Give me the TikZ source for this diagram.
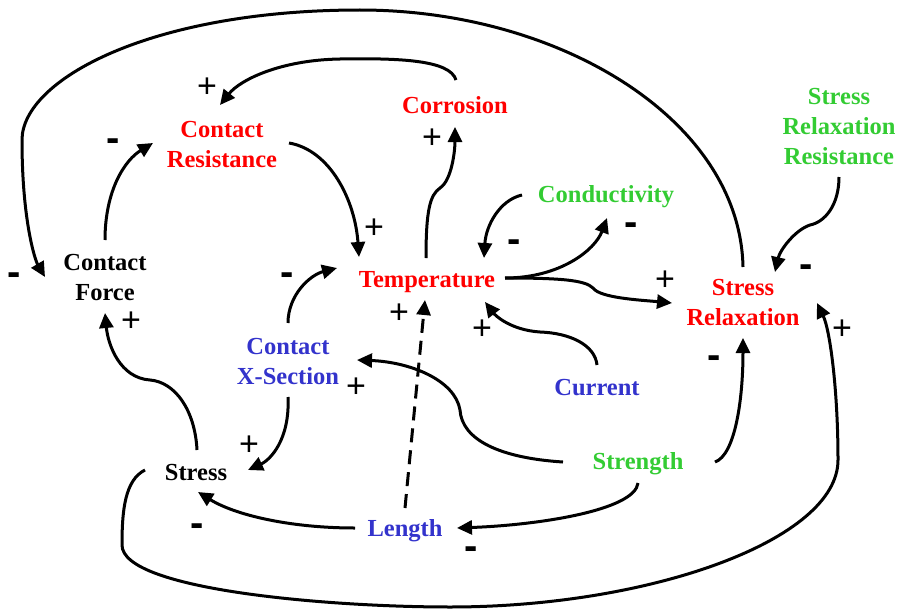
\documentclass[tikz,border=0pt]{standalone}
\usepackage{fontspec}
\setmainfont{Liberation Serif}
\newfontfamily\signfont{Liberation Sans}
\usetikzlibrary{arrows.meta,calc}
\definecolor{cred}{RGB}{255,0,0}
\definecolor{cgreen}{RGB}{51,204,51}
\definecolor{cblue}{RGB}{51,51,204}
\tikzset{
  var/.style={font=\fontsize{24.5}{30}\selectfont\bfseries, align=center, inner sep=0pt},
  redvar/.style={var, text=cred},
  greenvar/.style={var, text=cgreen},
  bluevar/.style={var, text=cblue},
  blackvar/.style={var, text=black},
  link/.style={line width=3pt, -{Triangle[length=15pt,width=14pt]}},
  plus/.style={font=\signfont\fontsize{34}{34}\selectfont, inner sep=0pt, text height=20pt, text depth=-4pt},
  minus/.style={font=\signfont\bfseries\fontsize{40}{40}\selectfont, inner sep=0pt, text height=13pt, text depth=-7pt}
}
\begin{document}
\begin{tikzpicture}[x=1pt,y=-1pt]
\useasboundingbox (0,0) rectangle (897,610);
% nodes
\node[redvar] (cor) at (455,105) {Corrosion};
\node[redvar] (cr) at (222,145) {Contact\\Resistance};
\node[greenvar] (srr) at (839,127) {Stress\\Relaxation\\Resistance};
\node[greenvar] (cond) at (606,197) {Conductivity};
\node[blackvar] (cf) at (105,278) {Contact\\Force};
\node[redvar] (temp) at (427,282) {Temperature};
\node[redvar] (sr) at (743,303) {Stress\\Relaxation};
\node[bluevar] (cxs) at (288,362) {Contact\\X-Section};
\node[bluevar] (cur) at (597,388) {Current};
\node[greenvar] (str) at (638,464) {Strength};
\node[blackvar] (stressnode) at (196,473) {Stress};
\node[bluevar] (len) at (405,531) {Length};
% connectors
\draw[link] ($(sr)+(0,-36)$) .. controls (740,120) and (560,10) .. (360,10) .. controls (150,10) and (22,80) .. (22,140) .. controls (22,220) and (35,260) .. ($(cf)+(-60,-1)$);
\draw[link] ($(cor)+(1,-25)$) .. controls (450,60) and (400,58) .. (340,59) .. controls (280,60) and (240,80) .. ($(cr)+(-2,-40)$);
\draw[link] ($(cf)+(0,-38)$) .. controls (105,190) and (125,160) .. ($(cr)+(-69,-2)$);
\draw[link] ($(cr)+(67,-2)$) .. controls (330,150) and (355,200) .. ($(temp)+(-68,-25)$);
\draw[link] ($(temp)+(-1,-24)$) .. controls (426,210) and (430,195) .. (440,188) .. controls (452,180) and (455,150) .. ($(cor)+(0,22)$);
\draw[link] ($(cond)+(-84,-2)$) .. controls (500,200) and (486,225) .. ($(temp)+(57,-24)$);
\draw[link] ($(temp)+(78,-4)$) .. controls (560,278) and (595,250) .. ($(cond)+(1,21)$);
\draw[link] ($(temp)+(78,-4)$) .. controls (560,278) and (585,280) .. (593,288) .. controls (600,298) and (640,300) .. ($(sr)+(-71,0)$);
\draw[link] ($(srr)+(0,50)$) .. controls (839,205) and (825,222) .. (810,225) .. controls (795,230) and (780,250) .. ($(sr)+(32,-31)$);
\draw[link] ($(cur)+(0,-23)$) .. controls (595,345) and (570,333) .. (540,332) .. controls (510,330) and (495,315) .. ($(temp)+(58,20)$);
\draw[link] ($(cxs)+(0,-39)$) .. controls (288,295) and (310,275) .. ($(temp)+(-90,-14)$);
\draw[link, dash pattern=on 14pt off 8pt] ($(len)+(0,-23)$) -- ($(temp)+(-2,18)$);
\draw[link] ($(str)+(-75,-2)$) .. controls (500,458) and (462,440) .. (460,410) .. controls (455,380) and (410,362) .. ($(cxs)+(69,-2)$);
\draw[link] ($(str)+(77,-2)$) .. controls (735,455) and (743,400) .. ($(sr)+(0,35)$);
\draw[link] ($(str)+(0,19)$) .. controls (635,510) and (540,525) .. ($(len)+(52,-3)$);
\draw[link] ($(len)+(-50,-3)$) .. controls (290,528) and (235,515) .. ($(stressnode)+(2,19)$);
\draw[link] ($(cxs)+(0,35)$) .. controls (290,440) and (270,460) .. ($(stressnode)+(52,-3)$);
\draw[link] ($(stressnode)+(1,-23)$) .. controls (195,410) and (175,382) .. (150,380) .. controls (120,378) and (108,345) .. ($(cf)+(0,35)$);
\draw[link] ($(stressnode)+(-51,-3)$) .. controls (125,480) and (122,510) .. (122,545) .. controls (122,590) and (330,607) .. (450,607) .. controls (650,607) and (838,540) .. (838,460) .. controls (838,390) and (830,330) .. ($(sr)+(74,0)$);
% signs
\node[plus] (p1) at (207,87) {+};
\node[minus] (m1) at (113,145) {-};
\node[plus] (p2) at (432,138) {+};
\node[plus] (p3) at (374,228) {+};
\node[minus] (m2) at (14,279) {-};
\node[minus] (m3) at (287,279) {-};
\node[plus] (p4) at (131,321) {+};
\node[plus] (p5) at (399,313) {+};
\node[plus] (p6) at (482,329) {+};
\node[minus] (m4) at (514,246) {-};
\node[minus] (m5) at (631,229) {-};
\node[plus] (p7) at (665,280) {+};
\node[minus] (m6) at (806,271) {-};
\node[plus] (p8) at (842,329) {+};
\node[minus] (m7) at (714,362) {-};
\node[plus] (p9) at (356,387) {+};
\node[plus] (p10) at (249,445) {+};
\node[minus] (m8) at (197,530) {-};
\node[minus] (m9) at (471,553) {-};
\end{tikzpicture}
\end{document}
